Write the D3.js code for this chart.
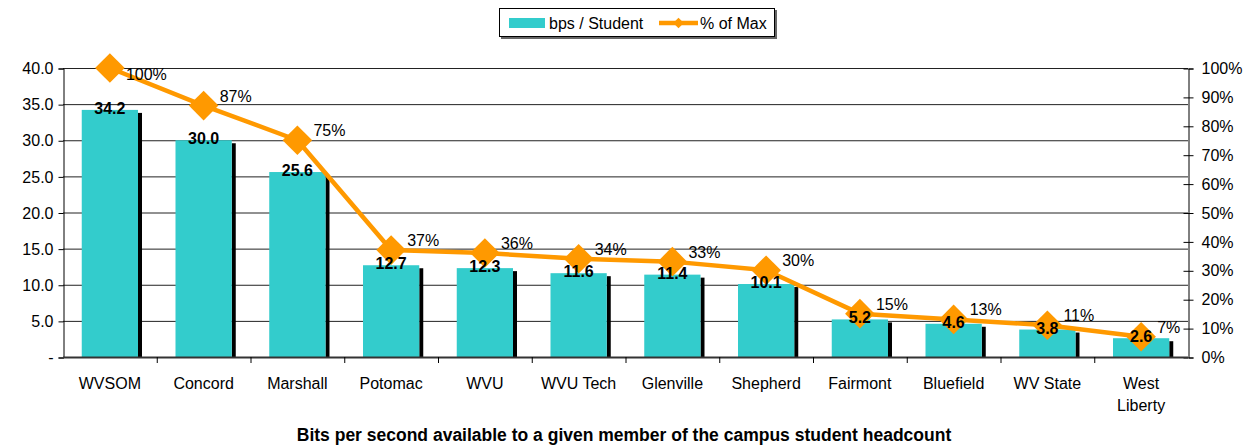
<!DOCTYPE html>
<html>
<head>
<meta charset="utf-8">
<script src="https://cdn.jsdelivr.net/npm/d3@7"></script>
<style>
  body { margin: 0; background: #fff; }
  svg { display: block; font-family: "Liberation Sans", Arial, sans-serif; }
</style>
</head>
<body>
<svg id="chart" width="1248" height="445"></svg>
<script>
// campuses, bandwidth per student and share of the maximum
const campuses = ['WVSOM', 'Concord', 'Marshall', 'Potomac', 'WVU', 'WVU Tech', 'Glenville', 'Shepherd', 'Fairmont', 'Bluefield', 'WV State', 'West Liberty'];
const bpsPerStudent = [34.2, 30.0, 25.6, 12.7, 12.3, 11.6, 11.4, 10.1, 5.2, 4.6, 3.8, 2.6];
const pctOfMax = [100, 87, 75, 37, 36, 34, 33, 30, 15, 13, 11, 7];
const leftTicks = [0, 5, 10, 15, 20, 25, 30, 35, 40];
const rightTicks = [0, 10, 20, 30, 40, 50, 60, 70, 80, 90, 100];
const seriesNames = ['bps / Student', '% of Max'];
const xTitle = 'Bits per second available to a given member of the campus student headcount';

const BAR = '#33CCCC', LINE = '#FF9900';
const plotL = 63, plotR = 1188, plotT = 68, plotB = 357;

const svg = d3.select('#chart');

const x = d3.scaleBand().domain(campuses).range([plotL, plotR]).paddingInner(0.4).paddingOuter(0.2);
const xCat = d3.scaleBand().domain(campuses).range([plotL, plotR]);
const y = d3.scaleLinear().domain([0, 40]).range([plotB, plotT]);
const y2 = d3.scaleLinear().domain([0, 100]).range([plotB, plotT]);

// gridlines
svg.append('g')
	.selectAll('line').data(leftTicks.slice(1)).join('line')
	.attr('x1', plotL).attr('x2', plotR)
	.attr('y1', d => y(d) + 0.5).attr('y2', d => y(d) + 0.5)
	.attr('stroke', '#222').attr('stroke-width', 1);

// bars with their black shadow
const data = campuses.map((c, i) => ({ c, v: bpsPerStudent[i], p: pctOfMax[i] }));
svg.append('g').selectAll('rect').data(data).join('rect')
	.attr('x', d => x(d.c) + x.bandwidth())
	.attr('y', d => y(d.v) + 3)
	.attr('width', 4)
	.attr('height', d => plotB - y(d.v) - 3)
	.attr('fill', '#000');
svg.append('g').selectAll('rect').data(data).join('rect')
	.attr('x', d => x(d.c))
	.attr('y', d => y(d.v))
	.attr('width', x.bandwidth())
	.attr('height', d => plotB - y(d.v))
	.attr('fill', BAR);

// left axis
const yAxis = d3.axisLeft(y).tickValues(leftTicks).tickSize(5).tickPadding(5)
	.tickFormat(d => d === 0 ? '-' : d3.format('.1f')(d));
const gy = svg.append('g').attr('transform', `translate(${plotL + 0.5},0.5)`).call(yAxis);
gy.select('.domain').attr('stroke', '#000');
gy.selectAll('text').attr('font-size', 16).attr('fill', '#000').attr('font-family', null);
gy.selectAll('.tick line').attr('stroke', '#000');

// right axis
const yAxis2 = d3.axisRight(y2).tickValues(rightTicks).tickSize(5).tickPadding(8)
	.tickFormat(d => d + '%');
const gy2 = svg.append('g').attr('transform', `translate(${plotR + 0.5},0.5)`).call(yAxis2);
gy2.select('.domain').attr('stroke', '#000');
gy2.selectAll('.tick line').attr('x1', -5).attr('stroke', '#000');
gy2.selectAll('text').attr('font-size', 16).attr('fill', '#000').attr('font-family', null);

// bottom axis
const gx = svg.append('g').attr('transform', `translate(0,${plotB})`);
gx.append('line').attr('x1', plotL).attr('x2', plotR).attr('y1', 0.5).attr('y2', 0.5)
	.attr('stroke', '#333').attr('stroke-width', 2);
gx.selectAll('line.tk').data(campuses.slice(1)).join('line').attr('class', 'tk')
	.attr('x1', d => xCat(d) + 0.5).attr('x2', d => xCat(d) + 0.5)
	.attr('y1', 0).attr('y2', 6).attr('stroke', '#000');
gx.selectAll('text').data(campuses).join('text')
	.attr('x', d => xCat(d) + xCat.bandwidth() / 2)
	.attr('y', 32)
	.attr('text-anchor', 'middle').attr('font-size', 16)
	.each(function (d) {
		const words = d === 'West Liberty' ? d.split(' ') : [d];
		d3.select(this).selectAll('tspan').data(words).join('tspan')
			.attr('x', xCat(d) + xCat.bandwidth() / 2)
			.attr('dy', (w, i) => i === 0 ? 0 : 22)
			.text(w => w);
	});

// % of max line and markers
const cx = d => xCat(d.c) + xCat.bandwidth() / 2;
svg.append('path').datum(data)
	.attr('d', d3.line().x(cx).y(d => y2(d.p)))
	.attr('fill', 'none').attr('stroke', LINE).attr('stroke-width', 4.5).attr('stroke-linejoin', 'round');
svg.append('g').selectAll('path').data(data).join('path')
	.attr('d', d3.symbol(d3.symbolDiamond2, 560))
	.attr('transform', d => `translate(${cx(d)},${y2(d.p)})`)
	.attr('fill', LINE);

// value labels on the bars
svg.append('g').selectAll('text').data(data).join('text')
	.attr('x', d => x(d.c) + x.bandwidth() / 2)
	.attr('y', d => y(d.v) + 4)
	.attr('text-anchor', 'middle')
	.attr('font-size', 16).attr('font-weight', 'bold')
	.text(d => d3.format('.1f')(d.v));

// percent labels
svg.append('g').selectAll('text').data(data).join('text')
	.attr('x', d => cx(d) + 16)
	.attr('y', d => Math.max(y2(d.p) - 4, plotT + 12))
	.attr('font-size', 16)
	.text(d => d.p + '%');

// legend
const lg = svg.append('g').attr('transform', 'translate(499,8)');
lg.append('rect').attr('x', 2).attr('y', 2).attr('width', 276).attr('height', 29).attr('fill', '#666');
lg.append('rect').attr('x', 0.5).attr('y', 0.5).attr('width', 275).attr('height', 28)
	.attr('fill', '#fff').attr('stroke', '#000');
lg.append('rect').attr('x', 10).attr('y', 10).attr('width', 36).attr('height', 10).attr('fill', BAR);
lg.append('text').attr('x', 50).attr('y', 21).attr('font-size', 16).text(seriesNames[0]);
lg.append('line').attr('x1', 160).attr('x2', 199).attr('y1', 15).attr('y2', 15)
	.attr('stroke', LINE).attr('stroke-width', 4.5);
lg.append('path').attr('d', d3.symbol(d3.symbolDiamond2, 70))
	.attr('transform', 'translate(179.5,15)').attr('fill', LINE);
lg.append('text').attr('x', 201).attr('y', 21).attr('font-size', 16).text(seriesNames[1]);

// title under the axis
svg.append('text').attr('x', 624).attr('y', 441).attr('text-anchor', 'middle')
	.attr('font-size', 17.5).attr('font-weight', 'bold').text(xTitle);
</script>
</body>
</html>
